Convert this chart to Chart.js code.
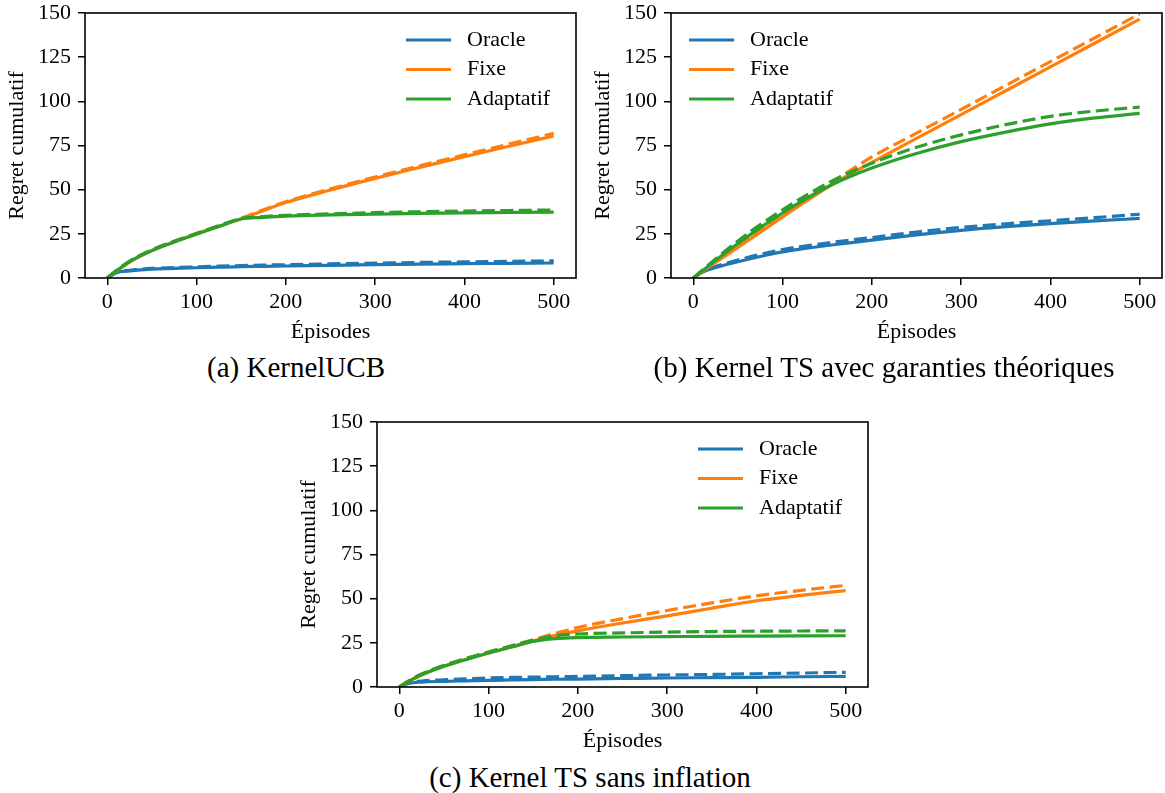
<!DOCTYPE html>
<html>
<head>
<meta charset="utf-8">
<script src="https://cdn.jsdelivr.net/npm/chart.js@4.4.1/dist/chart.umd.min.js"></script>
<style>
  body { margin: 0; background: #fff; }
  #page { position: relative; width: 1165px; height: 793px; background: #fff; font-family: "Liberation Serif", serif; }
  canvas { position: absolute; }
  .caption { position: absolute; font-size: 29px; line-height: 29px; color: #000; white-space: nowrap; transform: translateX(-50%); }
</style>
</head>
<body>
<div id="page">
  <canvas id="chartA" width="590" height="346" style="left:0px;top:0px"></canvas>
  <canvas id="chartB" width="579" height="346" style="left:586px;top:0px"></canvas>
  <canvas id="chartC" width="590" height="346" style="left:292px;top:409px"></canvas>
  <div class="caption" style="left:296px;top:353px">(a) KernelUCB</div>
  <div class="caption" style="left:884px;top:353px">(b) Kernel TS avec garanties théoriques</div>
  <div class="caption" style="left:590px;top:763px">(c) Kernel TS sans inflation</div>
</div>
<script>
// Episodes sampled along the x axis
const episodes = [0, 10, 25, 50, 75, 100, 125, 150, 175, 200, 250, 300, 350, 400, 450, 500];
const xTicks = [0, 100, 200, 300, 400, 500];
const yTicks = [0, 25, 50, 75, 100, 125, 150];
const methods = ['Oracle', 'Fixe', 'Adaptatif'];
const colors = ['#1f77b4', '#ff7f0e', '#2ca02c'];

// (a) KernelUCB
const ucbOracle     = [0, 3.0, 4.0, 5.0, 5.4, 5.8, 6.1, 6.4, 6.6, 6.8, 7.2, 7.6, 7.9, 8.1, 8.3, 8.5];
const ucbOracleDash = [0, 3.2, 4.3, 5.4, 5.9, 6.3, 6.7, 7.0, 7.3, 7.5, 8.0, 8.4, 8.8, 9.1, 9.4, 9.7];
const ucbFixe       = [0, 3.8, 9.0, 15.5, 20.5, 25.0, 29.3, 33.5, 38.2, 42.7, 49.8, 56.4, 62.6, 68.7, 74.6, 80.4];
const ucbFixeDash   = [0, 4.0, 9.3, 15.8, 20.8, 25.3, 29.6, 33.8, 38.6, 43.2, 50.5, 57.2, 63.5, 69.7, 75.8, 81.9];
const ucbAdapt      = [0, 4.0, 9.3, 15.6, 20.4, 24.8, 29.2, 33.4, 34.3, 35.0, 35.7, 36.2, 36.6, 36.9, 37.1, 37.3];
const ucbAdaptDash  = [0, 4.2, 9.6, 16.0, 20.8, 25.2, 29.6, 33.7, 34.8, 35.5, 36.3, 37.0, 37.5, 37.9, 38.2, 38.5];

// (b) Kernel TS avec garanties
const tsOracle     = [0, 3.2, 5.9, 9.2, 12.2, 14.8, 16.7, 18.4, 19.9, 21.4, 24.4, 27.0, 29.1, 30.8, 32.3, 33.7];
const tsOracleDash = [0, 3.5, 6.5, 10.2, 13.4, 16.1, 18.1, 19.8, 21.4, 22.9, 26.0, 28.6, 30.7, 32.4, 34.2, 36.1];
const tsFixe       = [0, 3.6, 8.8, 17.3, 26.0, 34.6, 43.0, 51.2, 58.6, 65.5, 79.0, 92.5, 106.0, 119.5, 133.0, 146.5];
const tsFixeDash   = [0, 4.0, 9.6, 18.6, 27.6, 36.5, 44.8, 52.8, 60.6, 68.5, 82.0, 95.4, 109.0, 122.5, 136.0, 149.5];
const tsAdapt      = [0, 4.0, 10.0, 19.5, 28.5, 36.8, 44.5, 51.5, 57.3, 62.3, 70.5, 77.2, 82.6, 87.2, 90.6, 93.2];
const tsAdaptDash  = [0, 4.4, 10.8, 21.0, 30.2, 38.6, 46.4, 53.5, 59.6, 65.0, 74.0, 81.0, 86.8, 91.5, 94.5, 96.7];

// (c) Kernel TS sans inflation
const noInfOracle     = [0, 2.0, 2.8, 3.2, 3.5, 3.8, 4.0, 4.2, 4.4, 4.5, 4.8, 5.1, 5.3, 5.5, 5.8, 6.0];
const noInfOracleDash = [0, 2.5, 3.4, 4.1, 4.6, 5.1, 5.4, 5.6, 5.8, 6.0, 6.4, 6.8, 7.1, 7.5, 7.9, 8.3];
const noInfFixe       = [0, 3.0, 6.8, 11.7, 15.6, 19.2, 22.5, 26.0, 29.2, 31.8, 36.2, 40.3, 44.6, 48.8, 51.9, 54.6];
const noInfFixeDash   = [0, 3.2, 7.2, 12.2, 16.2, 19.8, 23.2, 26.7, 30.4, 33.7, 38.7, 43.3, 47.6, 51.6, 54.7, 57.5];
const noInfAdapt      = [0, 3.0, 7.0, 11.7, 15.6, 19.2, 22.6, 25.8, 27.4, 28.0, 28.3, 28.5, 28.7, 28.8, 28.9, 29.0];
const noInfAdaptDash  = [0, 3.3, 7.4, 12.2, 16.2, 19.8, 23.2, 26.5, 29.0, 30.0, 30.6, 31.1, 31.4, 31.6, 31.7, 31.8];

Chart.defaults.font.family = '"Liberation Serif", serif';
Chart.defaults.color = '#000';

// frame around the plot area + legend inside it
const boxLegend = {
  id: 'boxLegend',
  afterDatasetsDraw(chart, args, opts) {
    const { ctx, chartArea: a } = chart;
    ctx.save();
    ctx.strokeStyle = '#000';
    ctx.lineWidth = 1.6;
    ctx.strokeRect(a.left, a.top, a.right - a.left, a.bottom - a.top);
    const x0 = opts.side === 'right' ? a.right - 170 : a.left + 18;
    ctx.font = '22px "Liberation Serif"';
    ctx.textBaseline = 'middle';
    methods.forEach((m, i) => {
      const y = a.top + 27 + i * 29.5;
      ctx.strokeStyle = colors[i];
      ctx.lineWidth = 3.2;
      ctx.beginPath();
      ctx.moveTo(x0, y);
      ctx.lineTo(x0 + 45, y);
      ctx.stroke();
      ctx.fillStyle = '#000';
      ctx.fillText(m, x0 + 61, y);
    });
    ctx.restore();
  }
};

function points(vals) {
  return episodes.map((x, i) => ({ x: x, y: vals[i] }));
}

function makeChart(id, solid, dashed, side, padRight) {
  const datasets = [];
  // green on top, blue at the bottom; dashed over solid
  for (let i = 2; i >= 0; i--) {
    datasets.push({ data: points(dashed[i]), borderColor: colors[i], borderWidth: 3.2, borderDash: [13, 5.5], pointRadius: 0, cubicInterpolationMode: 'monotone', fill: false });
    datasets.push({ data: points(solid[i]), borderColor: colors[i], borderWidth: 3.2, pointRadius: 0, cubicInterpolationMode: 'monotone', fill: false });
  }
  const axisGrid = { drawOnChartArea: false, drawTicks: true, tickLength: 7, color: '#000', lineWidth: 1.5 };
  return new Chart(document.getElementById(id), {
    type: 'line',
    data: { datasets: datasets },
    plugins: [boxLegend],
    options: {
      responsive: false,
      animation: false,
      devicePixelRatio: 1,
      layout: { padding: { top: 13, right: padRight, left: 0, bottom: 0 } },
      plugins: { legend: { display: false }, tooltip: { enabled: false }, boxLegend: { side: side } },
      scales: {
        x: {
          type: 'linear', min: -25, max: 525,
          afterBuildTicks: s => { s.ticks = xTicks.map(v => ({ value: v })); },
          afterFit: s => { s.height = 68; s.paddingLeft = 0; s.paddingRight = 0; },
          grid: axisGrid,
          border: { display: false },
          ticks: { padding: 4, font: { size: 22 }, maxRotation: 0, autoSkip: false },
          title: { display: true, text: 'Épisodes', font: { size: 22 }, padding: { top: 0, bottom: 1 } }
        },
        y: {
          type: 'linear', min: 0, max: 150,
          afterBuildTicks: s => { s.ticks = yTicks.map(v => ({ value: v })); },
          afterFit: s => { s.width = 85; s.paddingTop = 0; s.paddingBottom = 0; },
          grid: axisGrid,
          border: { display: false },
          ticks: { padding: 7, font: { size: 22 }, autoSkip: false },
          title: { display: true, text: 'Regret cumulatif', font: { size: 22 }, padding: { top: 4, bottom: 0 } }
        }
      }
    }
  });
}

makeChart('chartA', [ucbOracle, ucbFixe, ucbAdapt], [ucbOracleDash, ucbFixeDash, ucbAdaptDash], 'right', 14);
makeChart('chartB', [tsOracle, tsFixe, tsAdapt], [tsOracleDash, tsFixeDash, tsAdaptDash], 'left', 3);
makeChart('chartC', [noInfOracle, noInfFixe, noInfAdapt], [noInfOracleDash, noInfFixeDash, noInfAdaptDash], 'right', 14);
</script>
</body>
</html>
